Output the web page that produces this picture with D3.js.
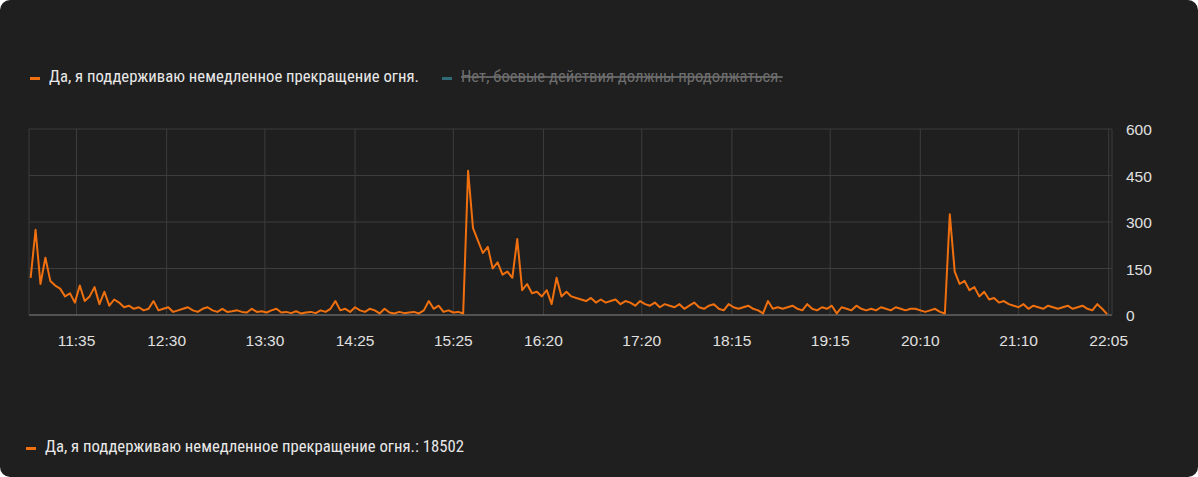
<!DOCTYPE html>
<html>
<head>
<meta charset="utf-8">
<script src="https://d3js.org/d3.v7.min.js"></script>
<style>
  html, body { margin: 0; padding: 0; background: #fff; }
  #card { width: 1198px; height: 477px; background: #1f1f1f; border-radius: 10px; overflow: hidden; }
  svg { display: block; }
</style>
</head>
<body>
<div id="card"><svg id="viz" width="1198" height="477"></svg></div>
<script>
const seriesNames = ["Да, я поддерживаю немедленное прекращение огня.", "Нет, боевые действия должны продолжаться."]
const seriesColors = ["#f0700f", "#2f6b78"]
const total = 18502
const startTime = "11:07"
const stepMinutes = 3
const yesValues = [
  120,275,100,185,110,95,85,60,70,40,
  95,45,60,90,35,75,30,50,40,25,
  30,20,25,15,20,45,15,20,25,10,
  15,20,25,15,10,20,25,15,10,20,
  10,12,15,10,8,20,10,12,8,15,
  20,8,10,6,12,5,8,10,6,15,
  10,20,45,15,20,10,25,15,10,20,
  15,5,20,8,5,10,6,8,10,5,
  15,45,20,30,10,15,8,10,5,465,
  280,240,200,220,150,170,130,140,120,245,
  80,100,70,75,60,80,35,120,60,75,
  60,55,50,45,55,40,50,40,45,50,
  35,45,40,30,45,35,30,40,25,35,
  30,25,35,20,30,40,25,20,30,35,
  20,15,35,25,20,25,30,20,15,5,
  45,20,25,20,25,30,20,15,35,20,
  15,25,20,30,5,25,20,15,30,20,
  15,20,15,25,20,15,25,20,15,20,
  20,15,10,15,20,10,5,325,140,100,
  110,80,90,60,75,50,55,40,45,35,
  30,25,35,20,30,25,20,30,25,20,
  25,30,20,25,30,20,15,35,20,3
]
const xTickLabels = ["11:35","12:30","13:30","14:25","15:25","16:20","17:20","18:15","19:15","20:10","21:10","22:05"]
const yTicks = [0, 150, 300, 450, 600]

const parse = d3.timeParse("%H:%M")
const t0 = parse(startTime)
const data = yesValues.map((v, i) => ({ t: d3.timeMinute.offset(t0, i * stepMinutes), v }))

const svg = d3.select("#viz")
const plotL = 29, plotR = 1112, plotT = 129, plotB = 315

const x = d3.scaleTime().domain([parse("11:06"), parse("22:07")]).range([plotL, plotR])
const y = d3.scaleLinear().domain([0, 600]).range([plotB, plotT])

// grid
svg.append("g").selectAll("line").data(xTickLabels).join("line")
  .attr("x1", d => x(parse(d))).attr("x2", d => x(parse(d)))
  .attr("y1", plotT).attr("y2", plotB).attr("stroke", "#3d3d3d")
svg.append("g").selectAll("line").data(yTicks).join("line")
  .attr("x1", plotL).attr("x2", plotR).attr("y1", d => y(d)).attr("y2", d => y(d))
  .attr("stroke", d => d === 0 ? "#666" : "#3d3d3d").attr("stroke-width", d => d === 0 ? 1.5 : 1)
svg.append("line").attr("x1", plotL).attr("x2", plotL).attr("y1", plotT).attr("y2", plotB).attr("stroke", "#3d3d3d")
svg.append("line").attr("x1", plotR).attr("x2", plotR).attr("y1", plotT).attr("y2", plotB).attr("stroke", "#3d3d3d")

// axis labels
svg.append("g").selectAll("text").data(xTickLabels).join("text")
  .attr("x", d => x(parse(d))).attr("y", 346).attr("text-anchor", "middle")
  .attr("font-family", "Liberation Sans, Arial, sans-serif").attr("font-size", 15.5).attr("fill", "#e0e0e0")
  .text(d => d)
svg.append("g").selectAll("text").data(yTicks).join("text")
  .attr("x", 1126).attr("y", d => y(d) + 6)
  .attr("font-family", "Liberation Sans, Arial, sans-serif").attr("font-size", 15.5).attr("fill", "#e0e0e0")
  .text(d => d)

// line
svg.append("path").datum(data)
  .attr("d", d3.line().x(d => x(d.t)).y(d => y(d.v)))
  .attr("fill", "none").attr("stroke", seriesColors[0]).attr("stroke-width", 2).attr("stroke-linejoin", "round")

// legends
const legFont = "'Liberation Sans Narrow', 'Roboto Condensed', 'DejaVu Sans Condensed', sans-serif"
function legendItem(x0, yy, color, label, textColor, strike) {
  svg.append("rect").attr("x", x0).attr("y", yy - 5).attr("width", 10).attr("height", 3).attr("fill", color)
  const t = svg.append("text").attr("x", x0 + 19).attr("y", yy).attr("font-family", legFont)
    .attr("font-size", 16.7).attr("fill", textColor).text(label)
  if (strike) t.attr("text-decoration", "line-through")
}
legendItem(30, 82, seriesColors[0], seriesNames[0], "#e8e8e8", false)
legendItem(442, 82, seriesColors[1], seriesNames[1], "#6e6e6e", true)
legendItem(26, 452, seriesColors[0], seriesNames[0] + ": " + total, "#e8e8e8", false)
</script>
</body>
</html>
